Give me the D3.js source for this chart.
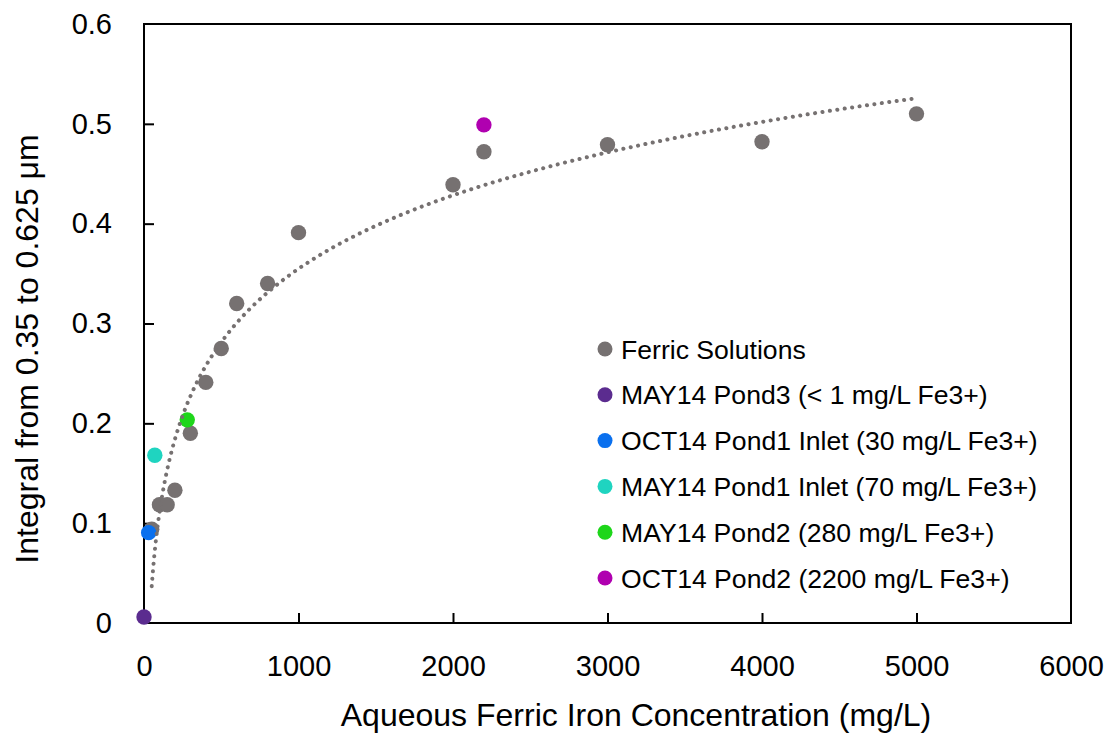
<!DOCTYPE html>
<html>
<head>
<meta charset="utf-8">
<script src="https://cdn.jsdelivr.net/npm/d3@7"></script>
<style>
  html, body { margin: 0; padding: 0; background: #fff; }
  svg { display: block; font-family: "Liberation Sans", Arial, sans-serif; }
</style>
</head>
<body>
<svg id="chart" width="1112" height="733"></svg>
<script>
// Ferric standard solutions: concentration (mg/L) and integral value
const ferricConc = [50, 100, 150, 200, 300, 400, 500, 600, 800, 1000, 2000, 2200, 3000, 4000, 5000];
const ferricIntegral = [0.094, 0.1185, 0.1185, 0.133, 0.190, 0.241, 0.275, 0.320, 0.340, 0.391, 0.439, 0.472, 0.479, 0.482, 0.510];

// Field samples
const sampleNames = [
  "MAY14 Pond3 (< 1 mg/L Fe3+)",
  "OCT14 Pond1 Inlet (30 mg/L Fe3+)",
  "MAY14 Pond1 Inlet (70 mg/L Fe3+)",
  "MAY14 Pond2 (280 mg/L Fe3+)",
  "OCT14 Pond2 (2200 mg/L Fe3+)"
];
const sampleConc = [0, 30, 70, 280, 2200];
const sampleIntegral = [0.006, 0.0905, 0.168, 0.2035, 0.499];
const sampleColors = ["#5b2c8f", "#0a70ee", "#1fd4c0", "#1ed61a", "#b000b0"];
const ferricColor = "#767171";

const xTicks = [0, 1000, 2000, 3000, 4000, 5000, 6000];
const yTicks = [0, 0.1, 0.2, 0.3, 0.4, 0.5, 0.6];

const svg = d3.select("#chart");
const plotLeft = 144, plotRight = 1071, plotTop = 24, plotBottom = 623;

const x = d3.scaleLinear().domain([0, 6000]).range([plotLeft, plotRight]);
const y = d3.scaleLinear().domain([0, 0.6]).range([plotBottom, plotTop]);

// Logarithmic least-squares trendline through the ferric solutions
const lx = ferricConc.map(Math.log);
const mx = d3.mean(lx), my = d3.mean(ferricIntegral);
const slope = d3.sum(lx, (v, i) => (v - mx) * (ferricIntegral[i] - my)) / d3.sum(lx, v => (v - mx) * (v - mx));
const intercept = my - slope * mx;
const xMin = d3.min(ferricConc), xMax = d3.max(ferricConc);
const trend = d3.range(0, 401).map(i => {
  const c = xMin * Math.pow(xMax / xMin, i / 400);
  return [c, slope * Math.log(c) + intercept];
});

// Axes (ticks point inward)
const xAxis = d3.axisBottom(x).tickValues(xTicks).tickSize(-10).tickPadding(32).tickFormat(d3.format("d"));
const yAxis = d3.axisLeft(y).tickValues(yTicks).tickSize(-10).tickPadding(32).tickFormat(d => d === 0 ? "0" : d3.format(".1f")(d));

const gx = svg.append("g").attr("transform", `translate(0,${plotBottom})`).call(xAxis);
const gy = svg.append("g").attr("transform", `translate(${plotLeft},0)`).call(yAxis);
[gx, gy].forEach(g => {
  g.select(".domain").remove();
  g.selectAll(".tick line").attr("stroke", "#000").attr("stroke-width", 2);
  g.selectAll(".tick text").attr("fill", "#000").style("font-size", "29px")
    .style("font-family", '"Liberation Sans", Arial, sans-serif');
});
gx.selectAll(".tick text").attr("dy", "0.71em");
gx.selectAll(".tick").filter(d => d === 0 || d === 6000).select("line").remove();
gy.selectAll(".tick").filter(d => d === 0 || d === 0.6).select("line").remove();

// Plot frame
svg.append("rect")
  .attr("x", plotLeft).attr("y", plotTop)
  .attr("width", plotRight - plotLeft).attr("height", plotBottom - plotTop)
  .attr("fill", "none").attr("stroke", "#000").attr("stroke-width", 2);

// Ferric solution markers
svg.append("g").selectAll("circle")
  .data(ferricConc.map((c, i) => [c, ferricIntegral[i]]))
  .join("circle")
  .attr("cx", d => x(d[0])).attr("cy", d => y(d[1])).attr("r", 7.7)
  .attr("fill", ferricColor);

// Sample markers
svg.append("g").selectAll("circle")
  .data(sampleConc.map((c, i) => [c, sampleIntegral[i], sampleColors[i]]))
  .join("circle")
  .attr("cx", d => x(d[0])).attr("cy", d => y(d[1])).attr("r", 7.7)
  .attr("fill", d => d[2]);

// Dotted trendline
svg.append("path")
  .datum(trend)
  .attr("d", d3.line().x(d => x(d[0])).y(d => y(d[1])))
  .attr("fill", "none").attr("stroke", ferricColor)
  .attr("stroke-width", 4).attr("stroke-linecap", "round")
  .attr("stroke-dasharray", "0.1 7.4");

// Legend
const legendItems = [{ name: "Ferric Solutions", color: ferricColor }]
  .concat(sampleNames.map((n, i) => ({ name: n, color: sampleColors[i] })));
const legend = svg.append("g");
legendItems.forEach((item, i) => {
  const cy = 349 + i * 45.8;
  legend.append("circle").attr("cx", 605).attr("cy", cy).attr("r", 7.5).attr("fill", item.color);
  legend.append("text").attr("x", 621).attr("y", cy).attr("dy", "0.36em")
    .style("font-size", "26.6px").attr("fill", "#000").text(item.name);
});

// Axis titles
svg.append("text")
  .attr("x", 636).attr("y", 726).attr("text-anchor", "middle")
  .style("font-size", "32px").attr("fill", "#000")
  .text("Aqueous Ferric Iron Concentration (mg/L)");
svg.append("text")
  .attr("transform", "translate(38,349) rotate(-90)").attr("text-anchor", "middle")
  .style("font-size", "32px").attr("fill", "#000")
  .text("Integral from 0.35 to 0.625 μm");
</script>
</body>
</html>
